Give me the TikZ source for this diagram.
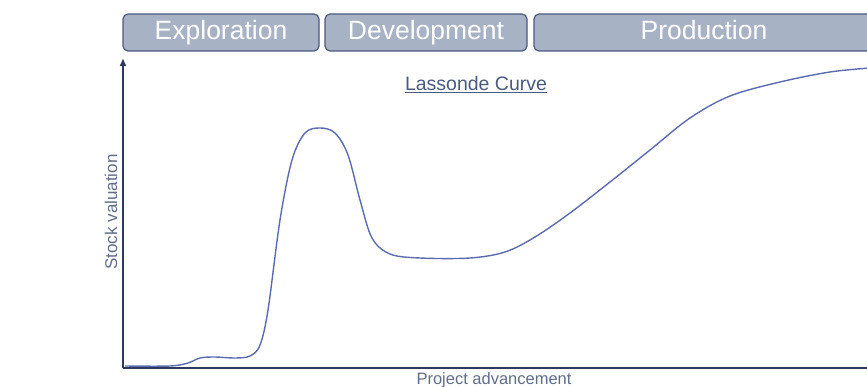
\documentclass[tikz,border=0pt]{standalone}
\usepackage{fontspec}
\setmainfont{Liberation Sans}
\usepackage{tikz}
\usetikzlibrary{arrows.meta}

\definecolor{boxfill}{HTML}{A7B2C5}
\definecolor{boxedge}{HTML}{4A5A80}
\definecolor{axiscol}{HTML}{2E3A5C}
\definecolor{curvecol}{HTML}{5C6BB0}
\definecolor{labelcol}{HTML}{5F6E8A}

\tikzset{
  phasebox/.style={draw=boxedge, fill=boxfill, rounded corners=5pt, line width=1.2pt,
    text=white, font=\fontsize{26.5}{26.5}\selectfont, minimum height=37, inner sep=0pt,
    text height=19pt, text depth=5pt},
  axisline/.style={draw=axiscol, line width=2.6pt},
  curveline/.style={draw=curvecol, line width=1.4pt},
}

\begin{document}
\begin{tikzpicture}[x=1pt, y=-1pt]
    \useasboundingbox (0,0) rectangle (867,387);
    % phases
    \node [phasebox, minimum width=196] (explo) at (221,32.5) {Exploration};
    \node [phasebox, minimum width=202] (devel) at (426,32.5) {Development};
    \node [phasebox, minimum width=340] (prod) at (704,32.5) {Production};
    % axes
    \coordinate (origin) at (123,368);
    \coordinate (ytop) at (123,58);
    \coordinate (xend) at (880,368);
    \draw [axisline, -{Latex[length=8pt,width=7pt]}] (origin) -- (ytop);
    \draw [axisline] (origin) -- (xend);
    \node [labelcol, rotate=90, anchor=base, font=\fontsize{17}{17}\selectfont] (ylab) at (117,212) {Stock valuation};
    \node [labelcol, anchor=base, font=\fontsize{16.5}{16.5}\selectfont] (xlab) at (494,384) {Project advancement};
    \node [boxedge, anchor=base, font=\fontsize{19.5}{19.5}\selectfont] (title) at (476,91) {\underline{Lassonde Curve}};
    % curve
    \draw [curveline] plot [smooth, tension=0.55] coordinates {
      (125,366) (170,366) (188,363) (200,358) (215,357) (235,358) (250,356)
      (260,345) (268,310) (280,220) (292,160) (305,133) (320,128) (335,133)
      (348,155) (360,200) (372,238) (390,254) (420,258) (470,258) (505,252)
      (535,237) (570,213) (610,182) (650,150) (690,118) (730,96) (780,82)
      (830,72) (870,68)};
\end{tikzpicture}
\end{document}
